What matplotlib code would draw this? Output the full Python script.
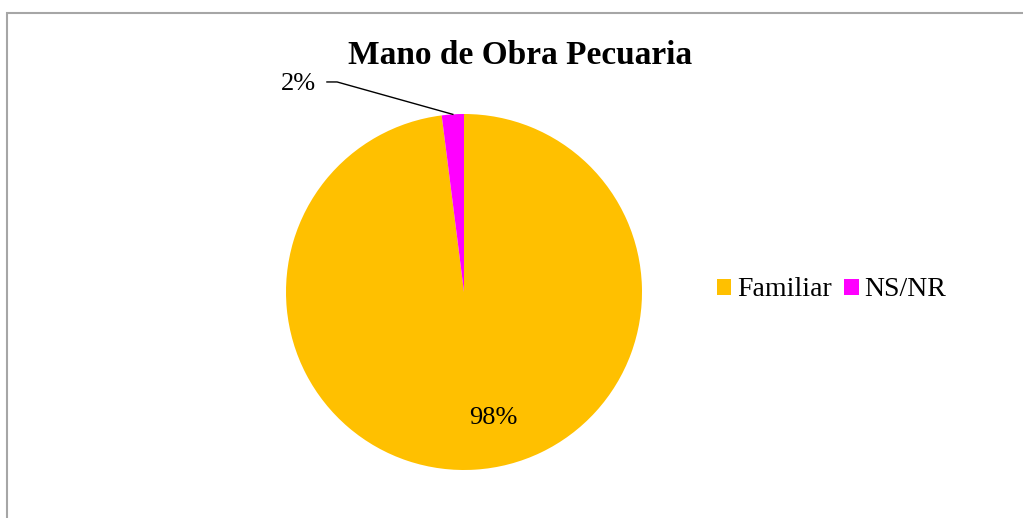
import numpy as np
import matplotlib
matplotlib.use("Agg")
import matplotlib.pyplot as plt
from matplotlib.patches import Rectangle

categories = ["Familiar", "NS/NR"]
values = [98, 2]
colors = ["#FFC000", "#FF00FF"]
title = "Mano de Obra Pecuaria"

plt.rcParams['font.family'] = ['Liberation Serif', 'DejaVu Serif']

W, H = 1023, 518
fig = plt.figure(figsize=(W/100, H/100), dpi=100)

# chart border
fig.patches.append(Rectangle((6.5/W, -0.1), 1.2, 1 - 12.5/H + 0.1, transform=fig.transFigure,
                             fill=False, edgecolor="#A6A6A6", linewidth=1.5))

cx, cy, r = 464, 292, 178
ax = fig.add_axes([(cx - r)/W, 1 - (cy + r)/H, 2*r/W, 2*r/H])
wedges, _ = ax.pie(values, colors=colors, startangle=90, counterclock=False,
                   radius=1, wedgeprops=dict(linewidth=0))
ax.set_xlim(-1, 1)
ax.set_ylim(-1, 1)
ax.set_aspect("equal")
ax.axis("off")

total = sum(values)
# 98% label inside
w0 = wedges[0]
mid0 = np.deg2rad((w0.theta1 + w0.theta2) / 2)
ax.text(np.cos(mid0)*0.71 + 0.12, np.sin(mid0)*0.71, f"{values[0]/total*100:.0f}%",
        ha="center", va="center", fontsize=19)
# 2% label with leader line
w1 = wedges[1]
mid1 = np.deg2rad((w1.theta1 + w1.theta2) / 2)
px, py = np.cos(mid1), np.sin(mid1)
ax.plot([px, -0.713, -0.77], [py, 1.18, 1.18], color="black", lw=1, clip_on=False)
ax.text(-0.83, 1.135, f"{values[1]/total*100:.0f}%", ha="right", va="baseline", fontsize=19)

fig.text(520/W, 1 - 63.5/H, title, ha="center", va="baseline", fontsize=24, fontweight="bold")

fig.legend(wedges, categories, loc="center left", bbox_to_anchor=(703/W, 1 - 290/H),
           frameon=False, ncol=2, fontsize=20, handlelength=0.52, handleheight=0.52,
           handletextpad=0.2, columnspacing=0.45, borderpad=0)

fig.savefig("out.png", dpi=100)
